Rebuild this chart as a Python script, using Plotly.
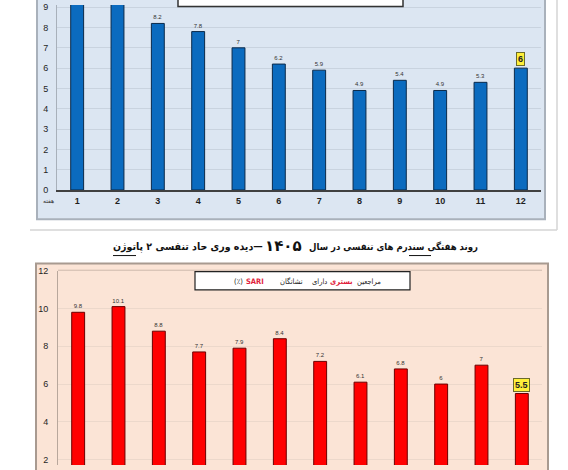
import plotly.graph_objects as go

W, H = 568, 470

weeks = [str(i) for i in range(1, 13)]
# Top chart (blue) – weekly values; weeks 1-2 exceed the visible area (estimated)
top_values = [10.6, 10.3, 8.2, 7.8, 7, 6.2, 5.9, 4.9, 5.4, 4.9, 5.3, 6]
# Bottom chart (red) – hospitalised SARI (%)
bottom_values = [9.8, 10.1, 8.8, 7.7, 7.9, 8.4, 7.2, 6.1, 6.8, 6, 7, 5.5]

top_yticks = list(range(0, 10))
bottom_yticks = [2, 4, 6, 8, 10, 12]

title_right = "روند هفتگی سندرم های تنفسی در سال"
title_year = "۱۴۰۵"
title_left = "\u200f—دیده وری حاد تنفسی ۲ پاتوژن"
box_words = [("مراجعین", "#222222"), ("بستری", "#e0203a"), ("دارای", "#222222"),
             ("نشانگان", "#222222"), ("SARI", "#e0203a"), ("(٪)", "#222222")]
week_label = "هفته"


def fmt(v):
    return f"{v:g}"


def px_x(p):
    return p / W


def px_y(p):
    return 1 - p / H


fig = go.Figure()

top_text = [fmt(v) for v in top_values[:-1]] + [""]
bottom_text = [fmt(v) for v in bottom_values[:-1]] + [""]

fig.add_trace(go.Bar(
    x=weeks, y=top_values, text=top_text, textposition="outside",
    textfont=dict(size=6, color="#333333", family="Liberation Sans"),
    marker=dict(color="#0b6bbf", line=dict(color="#0b2a4a", width=1)),
    width=0.32, xaxis="x", yaxis="y", cliponaxis=True, showlegend=False,
    hoverinfo="skip"))

fig.add_trace(go.Bar(
    x=weeks, y=bottom_values, text=bottom_text, textposition="outside",
    textfont=dict(size=6, color="#333333", family="Liberation Sans"),
    marker=dict(color="#ff0000", line=dict(color="#6a0000", width=1)),
    width=0.32, xaxis="x2", yaxis="y2", cliponaxis=True, showlegend=False,
    hoverinfo="skip"))

cat_range = [-0.5, len(weeks) - 0.5]

top_px_per_unit = (189 - 23) / 8.0
fig.update_layout(
    xaxis=dict(domain=[px_x(57), px_x(541)], anchor="y", type="category", range=cat_range,
               showgrid=False, showline=True, linecolor="#404040", linewidth=1.5,
               tickfont=dict(size=9, color="#1f1f1f", family="Liberation Sans"),
               ticks="", ticklabelstandoff=1, tickprefix="<b>", ticksuffix="</b>"),
    yaxis=dict(domain=[px_y(189), 1], anchor="x", range=[0, 189 / top_px_per_unit],
               tickvals=top_yticks, showgrid=True, gridcolor="#c9d3df", gridwidth=1,
               zeroline=False, showline=True, linecolor="#a8b0ba", linewidth=1,
               tickfont=dict(size=9, color="#1f1f1f", family="Liberation Sans"),
               tickprefix="<b>", ticksuffix="</b>", ticks="", ticklabelstandoff=6),
)

bottom_px_per_unit = (465 - 272) / 10.0
fig.update_layout(
    xaxis2=dict(domain=[px_x(58), px_x(542)], anchor="y2", type="category", range=cat_range,
                showgrid=False, showline=False, showticklabels=False, ticks=""),
    yaxis2=dict(domain=[0, px_y(271.5)], anchor="x2",
                range=[12 - (470 - 271.5) / bottom_px_per_unit, 12],
                tickvals=bottom_yticks, showgrid=True, gridcolor="#ecd8cb", gridwidth=1,
                zeroline=False, showline=True, linecolor="#b8a79c", linewidth=1,
                tickfont=dict(size=9, color="#1f1f1f", family="Liberation Sans"),
                tickprefix="<b>", ticksuffix="</b>", ticks="", ticklabelstandoff=7),
)

shapes = [
    dict(type="rect", xref="paper", yref="paper", x0=px_x(37), x1=px_x(545),
         y0=px_y(219), y1=1.05, fillcolor="#dce6f2", line=dict(color="#a9b1bb", width=2),
         layer="below"),
    dict(type="line", xref="paper", yref="paper", x0=px_x(30), x1=px_x(557),
         y0=px_y(230), y1=px_y(230), line=dict(color="#d4d4d4", width=1.5)),
    dict(type="line", xref="paper", yref="paper", x0=px_x(557), x1=px_x(557),
         y0=px_y(230), y1=1.02, line=dict(color="#d4d4d4", width=1.5)),
    dict(type="rect", xref="paper", yref="paper", x0=px_x(178), x1=px_x(403),
         y0=px_y(1.5), y1=1.05, fillcolor="white", line=dict(color="#333333", width=1.5)),
    dict(type="rect", xref="paper", yref="paper", x0=px_x(36), x1=px_x(548),
         y0=-0.05, y1=px_y(264), fillcolor="#fbe4d6", line=dict(color="#a89a90", width=2),
         layer="below"),
    dict(type="line", xref="paper", yref="paper", x0=px_x(58), x1=px_x(542),
         y0=px_y(271), y1=px_y(271), line=dict(color="#cdb9ac", width=1)),
    dict(type="rect", xref="paper", yref="paper", x0=px_x(195), x1=px_x(410),
         y0=px_y(291), y1=px_y(272.5), fillcolor="white", line=dict(color="#222222", width=1.2)),
    # underlines in the title
    dict(type="line", xref="paper", yref="paper", x0=px_x(409), x1=px_x(431),
         y0=px_y(256), y1=px_y(256), line=dict(color="#111111", width=1)),
    dict(type="line", xref="paper", yref="paper", x0=px_x(113), x1=px_x(136),
         y0=px_y(256), y1=px_y(256), line=dict(color="#111111", width=1)),
]

annotations = [
    dict(text=f"<b>{title_right}</b>", xref="paper", yref="paper", x=px_x(480), y=px_y(247),
         showarrow=False, xanchor="right", yanchor="middle",
         font=dict(size=9.5, color="#111111", family="DejaVu Sans Condensed, DejaVu Sans")),
    dict(text=f"<b>{title_year}</b>", xref="paper", yref="paper", x=px_x(283), y=px_y(246),
         showarrow=False, font=dict(size=15, color="#111111", family="DejaVu Sans"),
         xanchor="center", yanchor="middle"),
    dict(text=f"<b>{title_left}</b>", xref="paper", yref="paper", x=px_x(265), y=px_y(247),
         showarrow=False, xanchor="right", yanchor="middle",
         font=dict(size=10.5, color="#111111", family="DejaVu Sans Condensed, DejaVu Sans")),
    dict(text=week_label, xref="paper", yref="paper", x=px_x(48), y=px_y(200),
         showarrow=False, font=dict(size=6, color="#333333", family="DejaVu Sans"),
         xanchor="center", yanchor="middle"),
    dict(text=f"<b>{fmt(top_values[-1])}</b>", xref="x", yref="y", x=len(weeks) - 1,
         y=top_values[-1], yshift=9, showarrow=False, bgcolor="#ffef3a",
         bordercolor="#6b6b2a", borderwidth=1, borderpad=1,
         font=dict(size=9, color="#222222", family="Liberation Sans")),
    dict(text=f"<b>{fmt(bottom_values[-1])}</b>", xref="x2", yref="y2", x=len(weeks) - 1,
         y=bottom_values[-1], yshift=9, showarrow=False, bgcolor="#ffef3a",
         bordercolor="#6b6b2a", borderwidth=1, borderpad=1,
         font=dict(size=9, color="#222222", family="Liberation Sans")),
]

# legend-box words, laid out right to left
box_right_edges = [383, 355, 329, 305, 266, 245]
for (word, color), right in zip(box_words, box_right_edges):
    txt = f"<b>{word}</b>" if color != "#222222" else word
    annotations.append(dict(text=txt, xref="paper", yref="paper", x=px_x(right), y=px_y(282),
                            showarrow=False, xanchor="right", yanchor="middle",
                            font=dict(size=7.5, color=color,
                                      family="DejaVu Sans Condensed, DejaVu Sans")))

fig.update_layout(
    width=W, height=H, margin=dict(l=0, r=0, t=0, b=0),
    paper_bgcolor="white", plot_bgcolor="rgba(0,0,0,0)",
    shapes=shapes, annotations=annotations,
)

fig.write_html("out.html", config={"displayModeBar": False},
               post_script="document.body.style.margin='0';")
